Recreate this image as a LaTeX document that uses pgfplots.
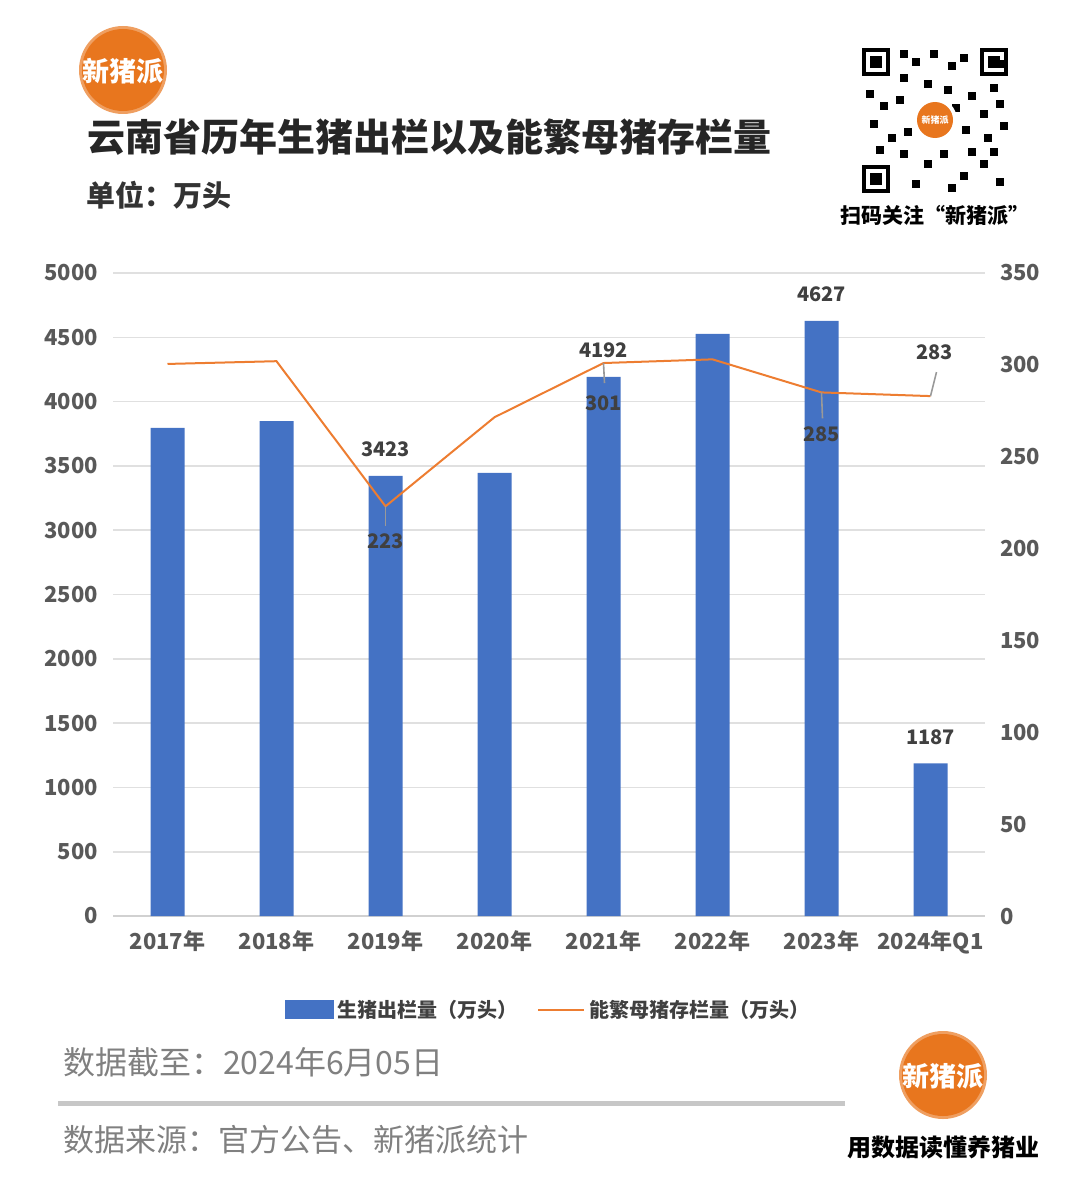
\documentclass[border=0pt]{standalone}
\usepackage{pgfplots}
\pgfplotsset{compat=1.18}
\usepackage{fontspec}
\setmainfont{Noto Sans CJK SC}

\definecolor{barblue}{HTML}{4472C4}
\definecolor{lineorange}{HTML}{ED7D31}
\definecolor{logoorange}{HTML}{E8761E}
\definecolor{ticktext}{HTML}{595959}
\definecolor{lbltext}{HTML}{404040}
\definecolor{foot}{HTML}{808080}

\newcommand{\fs}[1]{\fontsize{#1}{#1}\selectfont}

\begin{document}
\begin{tikzpicture}[x=0.5pt, y=-0.5pt]
\path[use as bounding box] (0,0) rectangle (1080,1177);

% header
\fill[logoorange!70] (123,70) circle (22pt);
\fill[logoorange] (123,70) circle (20.5pt);
\node[text=white, font=\bfseries\fs{13.5}] at (123,71) {新猪派};
\node[anchor=west, text=black!85, font=\bfseries\fs{19}] at (80,137) {云南省历年生猪出栏以及能繁母猪存栏量};
\node[anchor=west, text=black!80, font=\bfseries\fs{14.5}] at (79,195) {单位：万头};

% QR placeholder
\begin{scope}
\foreach \cx/\cy in {862/48, 980/48, 862/165} {
  \fill[black] (\cx,\cy) rectangle ++(28,28);
  \fill[white] (\cx+4,\cy+4) rectangle ++(20,20);
  \fill[black] (\cx+8,\cy+8) rectangle ++(12,12);
}
\foreach \bx/\by in {900/50, 912/58, 930/50, 948/62, 960/54, 900/74, 924/80, 944/86, 968/92, 990/84,
  866/90, 880/102, 896/96, 916/110, 952/104, 980/110, 996/100, 870/120, 888/134, 904/128,
  962/126, 984/134, 1000/122, 900/150, 924/160, 940/150, 960/172, 980/160, 996/178, 912/180,
  948/184, 968/148, 876/146, 990/148, 1000/60}
  \fill[black] (\bx,\by) rectangle ++(8,8);
\fill[white] (935,120) circle (11pt);
\fill[logoorange] (935,120) circle (9pt);
\node[text=white, font=\bfseries\fs{4.5}] at (935,120) {新猪派};
\end{scope}
\node[text=black, font=\bfseries\fs{10.5}] at (935,215) {扫码关注“新猪派”};

% chart: bars
\begin{axis}[
  at={(56.5pt,-458pt)}, anchor=south west,
  scale only axis, width=436pt, height=321.5pt,
  xmin=-0.5, xmax=7.5, ymin=0, ymax=5000,
  ytick={0,500,...,5000},
  xtick={0,1,2,3,4,5,6,7},
  xticklabels={2017年,2018年,2019年,2020年,2021年,2022年,2023年,2024年Q1},
  axis x line*=bottom, axis y line*=left,
  x axis line style={-, draw=black!18, line width=1pt},
  y axis line style={draw=none},
  major tick length=0pt,
  ymajorgrids, grid style={draw=black!12, line width=0.8pt},
  /pgf/number format/assume math mode=true,
  /pgf/number format/set thousands separator={},
  tick label style={font=\bfseries\fs{11}, text=ticktext},
  xticklabel style={yshift=-4pt},
  yticklabel style={xshift=-4pt},
  ybar, bar width=17pt,
]
\addplot[fill=barblue, draw=none] coordinates {
  (0,3795) (1,3849) (2,3423) (3,3445) (4,4192) (5,4526) (6,4627) (7,1187)
};
\node[anchor=south, yshift=6pt, text=lbltext, font=\bfseries\fs{10}] at (axis cs:2,3423) {3423};
\node[anchor=south, yshift=6pt, text=lbltext, font=\bfseries\fs{10}] at (axis cs:4,4192) {4192};
\node[anchor=south, yshift=6pt, text=lbltext, font=\bfseries\fs{10}] at (axis cs:6,4627) {4627};
\node[anchor=south, yshift=6pt, text=lbltext, font=\bfseries\fs{10}] at (axis cs:7,1187) {1187};
\end{axis}

% chart: line on right axis
\begin{axis}[
  at={(56.5pt,-458pt)}, anchor=south west,
  scale only axis, width=436pt, height=321.5pt,
  xmin=-0.5, xmax=7.5, ymin=0, ymax=350,
  ytick={0,50,...,350},
  axis x line=none, axis y line*=right,
  y axis line style={draw=none},
  major tick length=0pt,
  /pgf/number format/assume math mode=true,
  tick label style={font=\bfseries\fs{11}, text=ticktext},
  yticklabel style={xshift=4pt},
  legend style={at={(0.5,-0.146)}, anchor=center, draw=none, fill=none,
    legend columns=2, font=\bfseries\fs{10}, text=black!75,
    /tikz/every even column/.append style={column sep=8pt}},
]
\addlegendimage{legend image code/.code={\fill[barblue] (0pt,-4.5pt) rectangle (24pt,4.5pt);}}
\addlegendentry{生猪出栏量（万头）}
\addplot[color=lineorange, line width=1pt, mark=none,
  legend image code/.code={\draw[lineorange, line width=1pt] (0pt,0pt) -- (23pt,0pt);}]
  coordinates {
  (0,300.5) (1,302) (2,223) (3,271.5) (4,301) (5,303) (6,285) (7,283)
};
\addlegendentry{能繁母猪存栏量（万头）}
\draw[black!40, line width=0.8pt] (axis cs:2,223) -- ++(0pt,-10pt);
\draw[black!40, line width=0.8pt] (axis cs:4,301) -- ++(0.5pt,-10pt);
\draw[black!40, line width=0.8pt] (axis cs:6,285) -- ++(0.5pt,-13pt);
\draw[black!40, line width=0.8pt] (axis cs:7,283) -- ++(3pt,12pt);
\node[text=lbltext, font=\bfseries\fs{10}, yshift=-17.5pt] at (axis cs:2,223) {223};
\node[text=lbltext, font=\bfseries\fs{10}, yshift=-20pt] at (axis cs:4,301) {301};
\node[text=lbltext, font=\bfseries\fs{10}, yshift=-21pt] at (axis cs:6,285) {285};
\node[text=lbltext, font=\bfseries\fs{10}, yshift=22pt, xshift=2pt] at (axis cs:7,283) {283};
\end{axis}

% footer
\node[anchor=west, text=foot, font=\fs{16}] at (56,1062) {数据截至：2024年6月05日};
\draw[black!22, line width=2.5pt] (58,1103) -- (845,1103);
\node[anchor=west, text=foot, font=\fs{15.5}] at (56,1140) {数据来源：官方公告、新猪派统计};
\fill[logoorange!70] (943,1075) circle (22pt);
\fill[logoorange] (943,1075) circle (20.5pt);
\node[text=white, font=\bfseries\fs{13.5}] at (943,1076) {新猪派};
\node[text=black, font=\bfseries\fs{12}] at (943,1147) {用数据读懂养猪业};
\end{tikzpicture}
\end{document}
